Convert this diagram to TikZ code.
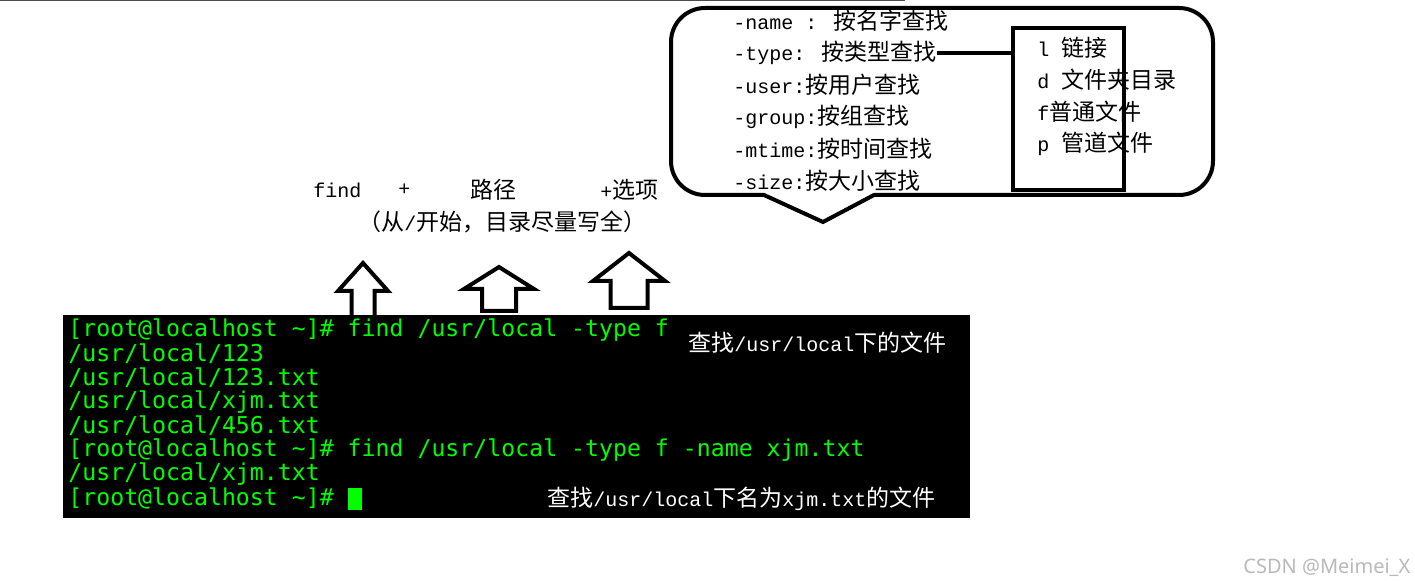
\documentclass[tikz,border=0pt]{standalone}
\usepackage{fontspec}
\setmainfont{Liberation Mono}
\newfontfamily\cjk[Scale=1.15]{Noto Sans CJK SC}
\newfontfamily\termfont{DejaVu Sans Mono}
\newfontfamily\markfont{Noto Sans}
\usetikzlibrary{positioning}

\definecolor{termgreen}{RGB}{0,255,0}
\newcommand{\zh}[1]{{\cjk #1}}

\tikzset{
  optline/.style={anchor=west, inner sep=0pt, font=\fontsize{10}{12}\selectfont},
  termline/.style={anchor=west, inner sep=0pt, text=termgreen, font=\termfont\fontsize{11.6}{14}\selectfont},
  termnote/.style={optline, text=white},
  blockarrow/.style={draw, line width=2pt, fill=white, line join=miter},
  thickbox/.style={draw, line width=2pt},
}

\begin{document}
\begin{tikzpicture}[x=0.5pt, y=-0.5pt]
\useasboundingbox (0,0) rectangle (1415,588);
% top edge of the screenshot
\draw[gray!60!black, line width=0.5pt] (0,1) -- (905,1);

% callout with the options
\draw[line width=2pt, rounded corners=17pt, line cap=round]
  (764,195) -- (671,195) -- (671,8) -- (1213,8) -- (1213,195) -- (874,195);
\draw[line width=2pt, line join=miter] (764,195) -- (823,222) -- (874,195);

\node[optline] (oname)  at (733,21)  {-name : \zh{按名字查找}};
\node[optline] (otype)  at (733,53)  {-type: \zh{按类型查找}};
\node[optline] (ouser)  at (733,85)  {-user:\zh{按用户查找}};
\node[optline] (ogroup) at (733,117) {-group:\zh{按组查找}};
\node[optline] (omtime) at (733,149) {-mtime:\zh{按时间查找}};
\node[optline] (osize)  at (733,181) {-size:\zh{按大小查找}};

% file types
\node[thickbox, minimum width=55.5pt, minimum height=81pt] (kinds) at (1068.5,109) {};
\node[optline] (klink) at (1037,48)  {l \zh{链接}};
\node[optline] (kdir)  at (1037,80)  {d \zh{文件夹目录}};
\node[optline] (kfile) at (1037,112) {f\zh{普通文件}};
\node[optline] (kpipe) at (1037,144) {p \zh{管道文件}};
\draw[line width=2pt] (otype.east) -- (otype.east -| kinds.west);

% command syntax
\node[optline] (find)     at (313,190) {find};
\node[optline] (plus)     at (398,190) {+};
\node[optline] (path)     at (470,190) {\zh{路径}};
\node[optline] (opts)     at (600,190) {+\zh{选项}};
\node[optline] (pathnote) at (358,222) {\zh{（从}/\zh{开始，目录尽量写全）}};

% block arrows
\foreach \tx/\ty/\hw/\sw/\hy/\by in {363/263/25/11.5/291/320, 499/267/35/17/289/311, 629/253/36/18.5/281/308}
  \draw[blockarrow] (\tx,\ty) -- ({\tx+\hw},\hy) -- ({\tx+\sw},\hy) -- ({\tx+\sw},\by)
    -- ({\tx-\sw},\by) -- ({\tx-\sw},\hy) -- ({\tx-\hw},\hy) -- cycle;

% terminal
\node[fill=black, minimum width=453.5pt, minimum height=101.5pt, inner sep=0pt, anchor=north west] (term) at (63,315) {};
\node[termline] (t1) at (68,330) {[root@localhost \textasciitilde]\# find /usr/local -type f};
\node[termline] (t2) at (68,354) {/usr/local/123};
\node[termline] (t3) at (68,378) {/usr/local/123.txt};
\node[termline] (t4) at (68,402) {/usr/local/xjm.txt};
\node[termline] (t5) at (68,426) {/usr/local/456.txt};
\node[termline] (t6) at (68,450) {[root@localhost \textasciitilde]\# find /usr/local -type f -name xjm.txt};
\node[termline] (t7) at (68,474) {/usr/local/xjm.txt};
\node[termline] (t8) at (68,498) {[root@localhost \textasciitilde]\#};
\node[fill=termgreen, minimum width=7pt, minimum height=11pt, inner sep=0pt] (cursor) at (355,499) {};

\node[termnote] (note1) at (688,343) {\zh{查找}/usr/local\zh{下的文件}};
\node[termnote] (note2) at (547,499) {\zh{查找}/usr/local\zh{下名为}xjm.txt\zh{的文件}};

\node[anchor=west, inner sep=0pt, text=gray!55, font=\markfont\fontsize{10}{12}\selectfont] (mark) at (1243,568) {CSDN @Meimei\_X};
\end{tikzpicture}
\end{document}
